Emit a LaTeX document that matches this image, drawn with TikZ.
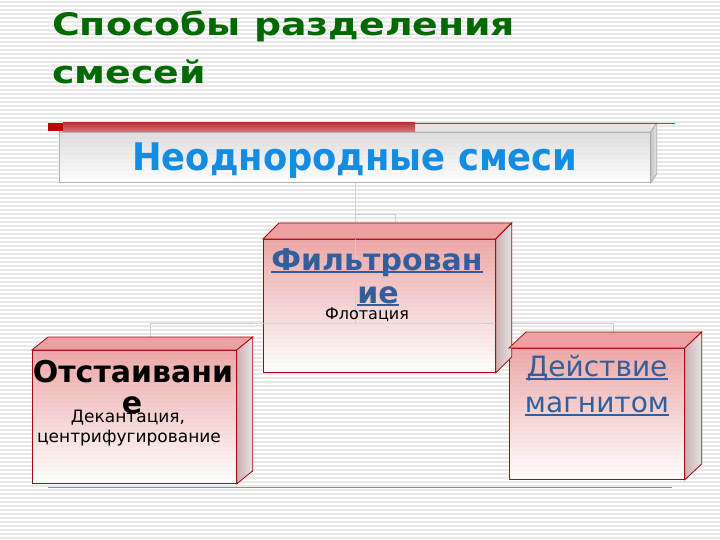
\documentclass[tikz,border=0pt]{standalone}
\usepackage{fontspec}
\setmainfont{DejaVu Sans}
\newfontfamily\titlefont[BoldFeatures={FakeStretch=1.22}]{DejaVu Sans}
\newfontfamily\headfont[BoldFeatures={FakeStretch=0.93}]{DejaVu Sans}
\usetikzlibrary{calc,positioning}

\definecolor{titlegreen}{RGB}{0,105,0}
\definecolor{headblue}{RGB}{20,140,225}
\definecolor{linkblue}{RGB}{50,95,155}
\definecolor{boxred}{RGB}{165,10,20}
\definecolor{boxpink}{RGB}{236,160,160}
\definecolor{sidegrey}{RGB}{205,175,175}
\definecolor{barred}{RGB}{185,55,55}
\definecolor{conn}{RGB}{205,205,210}

\tikzset{
  paperline/.style={black!9, line width=1.3pt},
  front/.style={draw=boxred, line width=0.8pt, top color=boxpink, bottom color=white,
    fill opacity=0.9, inner sep=0, anchor=north west},
  topface/.style={draw=boxred, line width=0.8pt, fill=boxpink},
  sideface/.style={draw=boxred, line width=0.8pt, left color=sidegrey, right color=gray!20},
  connector/.style={conn, line width=1pt},
  txt/.style={inner sep=0, anchor=base},
}

\begin{document}
\begin{tikzpicture}[x=1pt,y=-1pt]
    % paper
    \fill[white] (0,0) rectangle (720,540);
    \useasboundingbox (0,0) rectangle (720,540);
    \foreach \y in {2,6,...,540}
        \draw[paperline] (0,\y) -- (720,\y);

    % title
    \node[txt, anchor=base west, text=titlegreen] (title) at (52,36)
        {\titlefont\bfseries\fontsize{31}{36}\selectfont Способы разделения};
    \node[txt, anchor=base west, text=titlegreen] (titlesub) at (52,84)
        {\titlefont\bfseries\fontsize{31}{36}\selectfont смесей};

    % box positions
    \node[front, top color=gray!28, bottom color=white, draw=gray!60,
        minimum width=591, minimum height=50] (mixes) at (59,132) {};
    \node[front, minimum width=232, minimum height=133] (filtr) at (263,239) {};
    \node[front, minimum width=204, minimum height=133] (settle) at (32,350) {};
    \node[front, minimum width=175, minimum height=131] (magnet) at (509,348) {};

    % connectors
    \coordinate (rail) at (355,323);
    \coordinate (split) at (355,215);
    \draw[connector] (mixes.south -| rail) -- (rail);
    \draw[connector] (split) -| ($(filtr.north)+(16,-16)$);
    \draw[connector] ($(settle.north)+(16,-13)$) |- (rail) -| ($(magnet.north)+(17,-16)$);

    % top box faces
    \filldraw[draw=gray!60, line width=0.8pt, fill=gray!20] (mixes.north west) -- ($(mixes.north west)+(6,-9)$)
        -- ($(mixes.north east)+(6,-9)$) -- (mixes.north east) -- cycle;
    \filldraw[draw=gray!60, line width=0.8pt, left color=gray!45, right color=gray!20] (mixes.north east)
        -- ($(mixes.north east)+(6,-9)$) -- ($(mixes.south east)+(6,-9)$) -- (mixes.south east) -- cycle;
    \fill[top color=barred, bottom color=barred!65] (63,123) rectangle (415,132);
    \fill[red!75!black] (48,123) rectangle (63,131);
    \draw[barred, line width=0.8pt] (415,123) -- (675,123);
    \node[txt, text=headblue] (mixhead) at (mixes.center |- 0,171)
        {\headfont\bfseries\fontsize{38}{40}\selectfont Неоднородные смеси};

    % 3d faces of the red boxes
    \foreach \b/\dx/\dy in {filtr/16/-16, settle/16/-13, magnet/17/-16} {
        \filldraw[topface] (\b.north west) -- ($(\b.north west)+(\dx,\dy)$)
            -- ($(\b.north east)+(\dx,\dy)$) -- (\b.north east) -- cycle;
        \filldraw[sideface] (\b.north east) -- ($(\b.north east)+(\dx,\dy)$)
            -- ($(\b.south east)+(\dx,\dy)$) -- (\b.south east) -- cycle;
    }

    % filtration
    \node[txt, text=linkblue] (filtrhead) at (377,270)
        {\bfseries\fontsize{30}{32}\selectfont Фильтрован};
    \node[txt, text=linkblue] (filtrtail) at (378,303)
        {\bfseries\fontsize{30}{32}\selectfont ие};
    \draw[linkblue, line width=1.6pt] ($(filtrhead.base west)+(0,2)$) -- ($(filtrhead.base east)+(0,2)$);
    \draw[linkblue, line width=1.6pt] ($(filtrtail.base west)+(0,2)$) -- ($(filtrtail.base east)+(0,2)$);
    \node[txt] (flot) at (367,319) {\fontsize{16}{18}\selectfont Флотация};

    % settling
    \node[txt] (settlehead) at (133,382)
        {\bfseries\fontsize{30}{32}\selectfont Отстаивани};
    \node[txt] (settletail) at (132,413)
        {\bfseries\fontsize{30}{32}\selectfont е};
    \node[txt] (decant) at (128,422) {\fontsize{17}{19}\selectfont Декантация,};
    \node[txt] (centri) at (129,442) {\fontsize{17}{19}\selectfont центрифугирование};

    % magnet
    \node[txt, text=linkblue] (magnethead) at (597,376)
        {\fontsize{28}{30}\selectfont Действие};
    \node[txt, text=linkblue] (magnettail) at (597,412)
        {\fontsize{28}{30}\selectfont магнитом};
    \draw[linkblue, line width=1.4pt] ($(magnethead.base west)+(0,3)$) -- ($(magnethead.base east)+(0,3)$);
    \draw[linkblue, line width=1.4pt] ($(magnettail.base west)+(0,3)$) -- ($(magnettail.base east)+(0,3)$);

    % bottom rule
    \draw[barred!70, line width=0.8pt] (48,487) -- (672,487);
\end{tikzpicture}
\end{document}
